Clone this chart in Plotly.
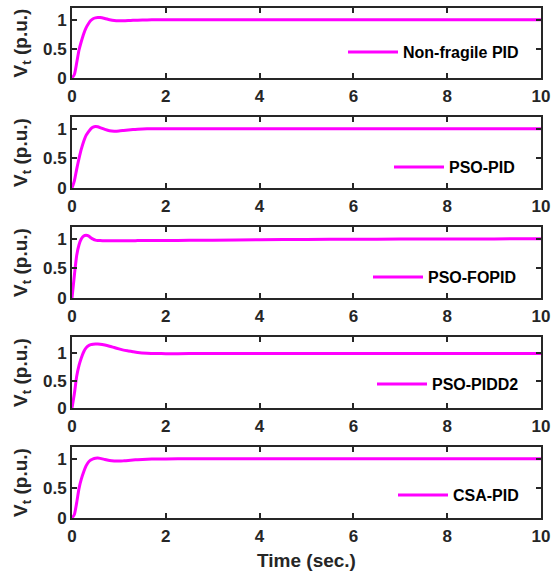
import plotly.graph_objects as go

# Time base (s) shared by all step responses
time_s = [0, 0.05, 0.1, 0.15, 0.2, 0.25, 0.3, 0.35, 0.4, 0.45, 0.5, 0.55, 0.6,
          0.7, 0.8, 0.9, 1.0, 1.1, 1.2, 1.3, 1.4, 1.6, 1.8, 2.0, 2.5, 3, 4, 5,
          6, 7, 8, 9, 10]

# Terminal voltage responses (p.u.) for each controller
vt_nonfragile_pid = [0, 0.06, 0.26, 0.48, 0.63, 0.76, 0.86, 0.93, 0.985, 1.015,
                     1.03, 1.037, 1.036, 1.02, 1.0, 0.985, 0.98, 0.981, 0.985,
                     0.989, 0.992, 0.996, 0.998, 0.999, 1.0, 1.0, 1.0, 1.0,
                     1.0, 1.0, 1.0, 1.0, 1.0]
vt_pso_pid = [0, 0.12, 0.32, 0.5, 0.66, 0.79, 0.89, 0.95, 1.0, 1.03, 1.04,
              1.035, 1.02, 0.99, 0.967, 0.96, 0.963, 0.972, 0.982, 0.99, 0.995,
              1.0, 1.002, 1.002, 1.001, 1.0, 1.0, 1.0, 1.0, 1.0, 1.0, 1.0, 1.0]
vt_pso_fopid = [0, 0.38, 0.72, 0.9, 1.0, 1.05, 1.06, 1.05, 1.02, 0.995, 0.978,
                0.972, 0.97, 0.969, 0.968, 0.968, 0.968, 0.968, 0.969, 0.969,
                0.97, 0.97, 0.971, 0.972, 0.975, 0.978, 0.984, 0.989, 0.993,
                0.996, 0.998, 0.999, 1.0]
vt_pso_pidd2 = [0, 0.26, 0.58, 0.78, 0.92, 1.03, 1.1, 1.14, 1.16, 1.168, 1.172,
                1.171, 1.167, 1.152, 1.132, 1.107, 1.082, 1.06, 1.045, 1.03, 1.017,
                1.003, 0.997, 0.995, 0.996, 0.998, 1.0, 1.0, 1.0, 1.0, 1.0,
                1.0, 1.0]
vt_csa_pid = [0, 0.06, 0.26, 0.5, 0.66, 0.78, 0.88, 0.945, 0.98, 1.0, 1.01,
              1.012, 1.008, 0.99, 0.972, 0.963, 0.962, 0.966, 0.973, 0.98,
              0.986, 0.993, 0.997, 0.999, 1.0, 1.0, 1.0, 1.0, 1.0, 1.0, 1.0,
              1.0, 1.0]

series_names = ["Non-fragile PID", "PSO-PID", "PSO-FOPID", "PSO-PIDD2", "CSA-PID"]
series_values = [vt_nonfragile_pid, vt_pso_pid, vt_pso_fopid, vt_pso_pidd2, vt_csa_pid]
y_upper = [1.2, 1.2, 1.2, 1.3, 1.2]
x_ticks = [0, 2, 4, 6, 8, 10]
y_ticks = [0, 0.5, 1]

W, H = 551, 576
FONT = "Liberation Sans"
INK = "#262626"

# panel pixel boxes (top, bottom) and legend placement
panel_px = [(8, 78), (117, 188), (227, 298), (337, 408), (447, 518)]
legend_right_px = [524, 520, 522, 524, 524]
legend_mid_px = [52, 167, 277, 384, 495]
left_px, right_px = 72, 541

fig = go.Figure()
layout = dict(
    width=W, height=H,
    margin=dict(l=0, r=0, t=0, b=0, autoexpand=False),
    paper_bgcolor="white", plot_bgcolor="white",
    font=dict(family=FONT, size=16, color=INK, weight="bold"),
    showlegend=True,
)

for i, (name, vals) in enumerate(zip(series_names, series_values)):
    k = "" if i == 0 else str(i + 1)
    leg = "legend" + k
    fig.add_trace(go.Scatter(
        x=time_s, y=vals, name=name, mode="lines",
        line=dict(color="#FF00FF", width=3, shape="spline", smoothing=0.6),
        xaxis="x" + k, yaxis="y" + k, legend=leg,
    ))
    top, bot = panel_px[i]
    axis_common = dict(
        showline=True, linewidth=2, linecolor=INK, mirror="ticks",
        ticks="inside", ticklen=5, tickwidth=2, tickcolor=INK,
        showgrid=False, zeroline=False, automargin=False,
        tickfont=dict(family=FONT, size=17, color=INK, weight="bold"),
    )
    xa = dict(axis_common, domain=[left_px / W, right_px / W], range=[0, 10],
              tickvals=x_ticks, anchor="y" + k, ticklabelstandoff=2)
    if i == 4:
        xa["title"] = dict(text="Time (sec.)", standoff=8,
                           font=dict(family=FONT, size=19, color=INK, weight="bold"))
    ya = dict(axis_common, domain=[1 - bot / H, 1 - top / H], range=[0, y_upper[i]],
              tickvals=y_ticks, ticktext=["0", "0.5", "1"], anchor="x" + k,
              title=dict(text="V<sub>t</sub> (p.u.)", standoff=10,
                         font=dict(family=FONT, size=19, color=INK, weight="bold")))
    layout["xaxis" + k] = xa
    layout["yaxis" + k] = ya
    layout[leg] = dict(
        x=legend_right_px[i] / W, y=1 - legend_mid_px[i] / H,
        xanchor="right", yanchor="middle",
        bgcolor="rgba(0,0,0,0)", borderwidth=0,
        font=dict(family=FONT, size=16, color="black", weight="bold"),
        itemwidth=50,
    )

fig.update_layout(**layout)
fig.write_html("out.html")
